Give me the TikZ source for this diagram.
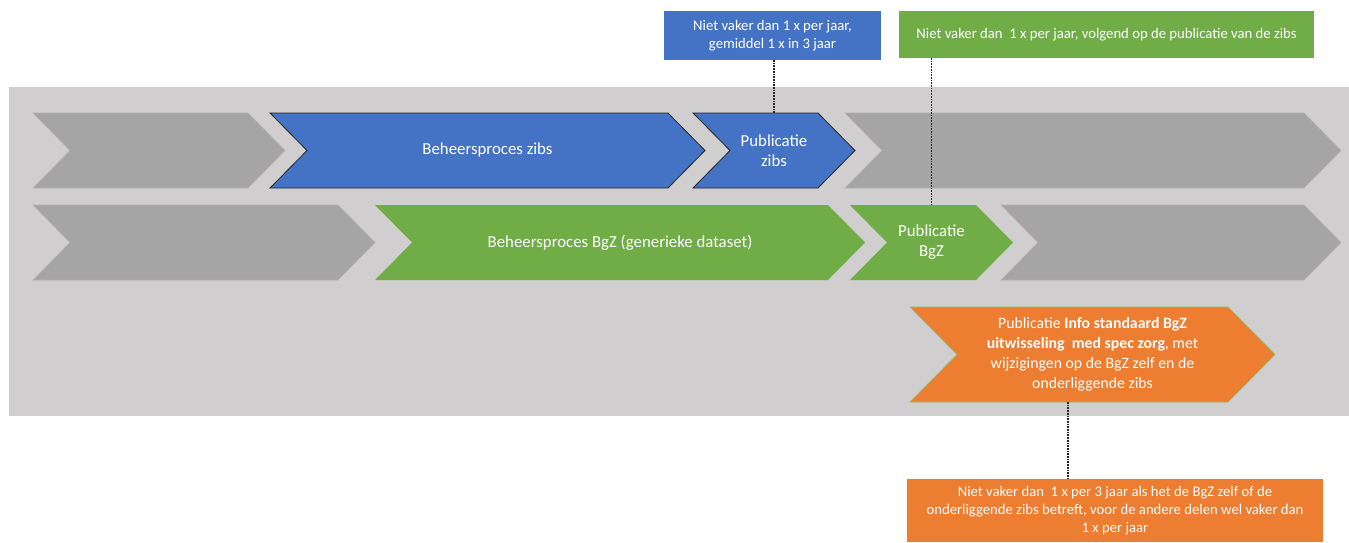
\documentclass[tikz,border=0pt]{standalone}
\usepackage{fontspec}
\setmainfont{Carlito}
\usetikzlibrary{backgrounds}

\definecolor{panelgray}{HTML}{D0CECE}
\definecolor{chevgray}{HTML}{A5A5A5}
\definecolor{zibsblue}{HTML}{4472C4}
\definecolor{bgzgreen}{HTML}{70AD47}
\definecolor{infoorange}{HTML}{ED7D31}

\tikzset{
  chevbox/.style={inner sep=0pt, outer sep=0pt, text=white, align=center, font=\fontsize{16.8}{20}\selectfont},
  callout/.style={inner sep=0pt, outer sep=0pt, text=white, align=center, font=\fontsize{14.7}{18}\selectfont},
  grayfill/.style={fill=chevgray, draw=chevgray!85!white, line width=0.6pt},
  bluefill/.style={fill=zibsblue, draw=black!85, line width=0.8pt},
  greenfill/.style={fill=bgzgreen},
  orangefill/.style={fill=infoorange, draw=bgzgreen!80!white, line width=0.6pt},
  link/.style={densely dotted, line width=1.7pt, black!85}
}

% chevron behind a node: #1 style, #2 node, #3 depth of the point
\newcommand{\chevron}[3]{%
  \begin{scope}[on background layer]
    \path[#1] (#2.north west) -- ([xshift=-#3]#2.north east) -- (#2.east)
      -- ([xshift=-#3]#2.south east) -- (#2.south west) -- ([xshift=#3]#2.west) -- cycle;
  \end{scope}}

\begin{document}
\begin{tikzpicture}[x=1pt, y=-1pt]
        \useasboundingbox (0, 0) rectangle (1349, 542);

        % Grey panel
        \begin{scope}[on background layer]
            \fill[panelgray] (9, 87) rectangle (1349, 416);
        \end{scope}

        % Row of the zibs
        \node[chevbox, minimum width=252pt, minimum height=75pt] (g11) at (159, 150.5) {};
        \node[chevbox, minimum width=435pt, minimum height=75pt] (b1) at (487.5, 150.5) {Beheersproces zibs};
        \node[chevbox, minimum width=162pt, minimum height=75pt] (b2) at (774, 150.5) {Publicatie\\zibs};
        \node[chevbox, minimum width=496pt, minimum height=75pt] (g12) at (1093, 150.5) {};

        \chevron{grayfill}{g11}{37pt}
        \chevron{bluefill}{b1}{37pt}
        \chevron{bluefill}{b2}{37pt}
        \chevron{grayfill}{g12}{37pt}

        % Row of the BgZ
        \node[chevbox, minimum width=342pt, minimum height=75pt] (g21) at (204, 242.5) {};
        \node[chevbox, minimum width=490pt, minimum height=75pt] (gr1) at (620, 242.5) {Beheersproces BgZ (generieke dataset)};
        \node[chevbox, minimum width=163pt, minimum height=75pt] (gr2) at (931.5, 242.5) {Publicatie\\BgZ};
        \node[chevbox, minimum width=340pt, minimum height=75pt] (g22) at (1171, 242.5) {};

        \chevron{grayfill}{g21}{37pt}
        \chevron{greenfill}{gr1}{37pt}
        \chevron{greenfill}{gr2}{37pt}
        \chevron{grayfill}{g22}{37pt}

        % Information standard
        \node[chevbox, minimum width=365pt, minimum height=95pt, font=\fontsize{15.8}{20}\selectfont] (opub) at (1092.5, 354.5)
            {Publicatie \textbf{Info standaard BgZ}\\\textbf{uitwisseling\ \ med spec zorg}, met\\wijzigingen op de BgZ zelf en de\\onderliggende zibs};
        \chevron{orangefill}{opub}{47pt}

        % Callouts
        \node[callout, fill=zibsblue, minimum width=217pt, minimum height=49pt] (bcall) at (772.5, 35.5)
            {Niet vaker dan 1 x per jaar,\\gemiddel 1 x in 3 jaar};
        \node[callout, fill=bgzgreen, minimum width=415pt, minimum height=47pt] (gcall) at (1106.5, 34.5)
            {Niet vaker dan\ \ 1 x per jaar, volgend op de publicatie van de zibs};
        \node[callout, fill=infoorange, minimum width=416pt, minimum height=63pt] (ocall) at (1115, 510.5)
            {Niet vaker dan\ \ 1 x per 3 jaar als het de BgZ zelf of de\\onderliggende zibs betreft, voor de andere delen wel vaker dan\\1 x per jaar};

        \draw[link] (bcall.south -| b2.north) -- (b2.north);
        \draw[link] (gcall.south -| gr2.north) -- (gr2.north);
        \coordinate (odrop) at (1068, 0);
        \draw[link] (opub.south -| odrop) -- (ocall.north -| odrop);
    \end{tikzpicture}
\end{document}
